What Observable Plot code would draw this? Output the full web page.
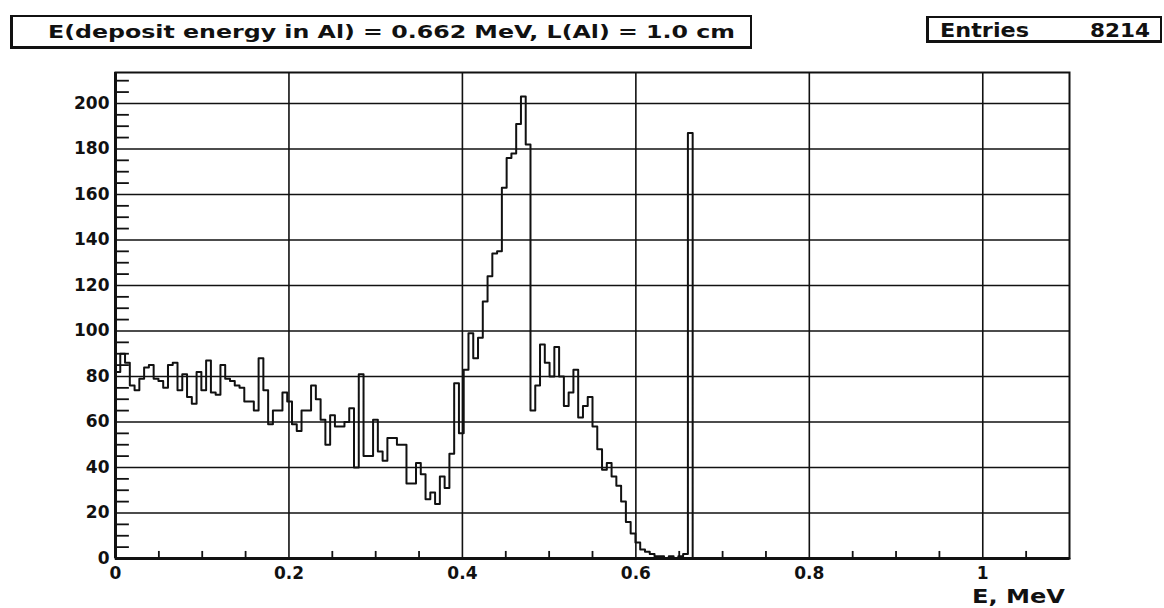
<!DOCTYPE html>
<html><head><meta charset="utf-8">
<script src="https://cdn.jsdelivr.net/npm/d3@7"></script>
<script src="https://cdn.jsdelivr.net/npm/@observablehq/plot@0.6"></script>
<style>
body{margin:0;background:#fff;width:1164px;height:608px;overflow:hidden;position:relative;font-family:"DejaVu Sans",sans-serif;font-weight:bold;color:#111;}
.box{position:absolute;border:2px solid #111;border-left-width:3px;border-bottom-width:3px;background:#fff;box-sizing:border-box;}
.t{position:absolute;white-space:nowrap;transform-origin:0 0;line-height:1;}
#chart{position:absolute;left:0;top:0;}
</style></head><body>
<div id="chart"></div>
<div class="box" style="left:10px;top:15px;width:742px;height:34px"></div>
<span class="t" id="title" data-w="687" style="left:48px;top:23px;font-size:18px"></span>
<div class="box" style="left:926px;top:16px;width:236px;height:27px"></div>
<span class="t" id="entL" data-w="89" style="left:940px;top:20px;font-size:20px"></span>
<span class="t" id="entV" data-w="60" data-right="1150" style="left:1090px;top:20px;font-size:20px"></span>
<span class="t" id="xlab" data-w="93" style="left:972px;top:586px;font-size:20px"></span>
<script>
const titleText = "E(deposit energy in Al) = 0.662 MeV, L(Al) = 1.0 cm";
const entriesLabel = "Entries";
const entriesValue = "8214";
const xAxisLabel = "E, MeV";

const binWidth = 0.0055; // MeV, 200 bins over 0..1.1
const counts = [
  82, 90, 86, 76, 74, 79, 84, 85, 79, 78,
  75, 85, 86, 74, 81, 71, 68, 82, 74, 87,
  73, 72, 85, 79, 78, 76, 75, 69, 69, 65,
  88, 74, 59, 65, 65, 73, 69, 59, 56, 65,
  65, 76, 70, 61, 50, 63, 58, 58, 60, 66,
  40, 81, 45, 45, 61, 47, 43, 53, 53, 50,
  50, 33, 33, 42, 37, 26, 29, 24, 36, 31,
  46, 77, 55, 83, 99, 88, 97, 113, 124, 134,
  135, 163, 176, 178, 191, 203, 182, 65, 76, 94,
  86, 80, 93, 80, 67, 73, 83, 62, 67, 71,
  58, 48, 39, 42, 36, 32, 25, 16, 11, 7,
  4, 3, 2, 1, 1, 0, 1, 0, 1, 2, 187
];

const xTicks = [0, 0.2, 0.4, 0.6, 0.8, 1];
const xTickLabels = ["0", "0.2", "0.4", "0.6", "0.8", "1"];
const yTicks = [0, 20, 40, 60, 80, 100, 120, 140, 160, 180, 200];
const yTickLabels = ["0", "20", "40", "60", "80", "100", "120", "140", "160", "180", "200"];
const xGrid = [0.2, 0.4, 0.6, 0.8, 1];
const yGrid = [20, 40, 60, 80, 100, 120, 140, 160, 180, 200];
const xMinor = [0.05, 0.1, 0.15, 0.25, 0.3, 0.35, 0.45, 0.5, 0.55, 0.65, 0.7, 0.75, 0.85, 0.9, 0.95, 1.05];
const yMinor = [5, 10, 15, 25, 30, 35, 45, 50, 55, 65, 70, 75, 85, 90, 95, 105, 110, 115, 125, 130, 135, 145, 150, 155, 165, 170, 175, 185, 190, 195, 205, 210];

const hist = counts.map((c, i) => ({x: i * binWidth, y: c}));
hist.push({x: counts.length * binWidth, y: 0});
hist.push({x: 1.1, y: 0});

const xLab = new Map(xTicks.map((v, i) => [v, xTickLabels[i]]));
const yLab = new Map(yTicks.map((v, i) => [v, yTickLabels[i]]));

const chart = Plot.plot({
  width: 1164, height: 608,
  marginLeft: 115, marginRight: 95, marginTop: 72, marginBottom: 50,
  x: {domain: [0, 1.1]},
  y: {domain: [0, 213.6]},
  style: {fontFamily: "DejaVu Sans", fontWeight: "bold", background: "white", color: "#111"},
  marks: [
    Plot.ruleX(xGrid, {stroke: "#111", strokeWidth: 1.6}),
    Plot.ruleY(yGrid, {stroke: "#111", strokeWidth: 1.6}),
    Plot.ruleY(yMinor, {y: d => d, x1: 0, x2: 0.016, stroke: "#111", strokeWidth: 1.8}),
    Plot.ruleX(xMinor, {x: d => d, y1: 0, y2: 3.1, stroke: "#111", strokeWidth: 1.8}),
    Plot.line(hist, {x: "x", y: "y", curve: "step-after", stroke: "#111", strokeWidth: 2}),
    Plot.frame({stroke: "#111", strokeWidth: 2}),
    Plot.ruleX([0], {stroke: "#111", strokeWidth: 3}),
    Plot.ruleY([0], {stroke: "#111", strokeWidth: 3}),
    Plot.axisX(xTicks, {tickSize: 0, tickPadding: 8, tickFormat: d => xLab.get(d), fontSize: 17, label: null}),
    Plot.axisY(yTicks, {tickSize: 0, tickPadding: 6, tickFormat: d => yLab.get(d), fontSize: 17, label: null})
  ]
});
document.getElementById("chart").append(chart);

document.getElementById("title").textContent = titleText;
document.getElementById("entL").textContent = entriesLabel;
document.getElementById("entV").textContent = entriesValue;
document.getElementById("xlab").textContent = xAxisLabel;
for (const el of document.querySelectorAll(".t")) {
  const w = el.getBoundingClientRect().width;
  const target = +el.dataset.w;
  el.style.transform = `scaleX(${target / w})`;
  if (el.dataset.right) el.style.left = (+el.dataset.right - target) + "px";
}
</script>
</body></html>
